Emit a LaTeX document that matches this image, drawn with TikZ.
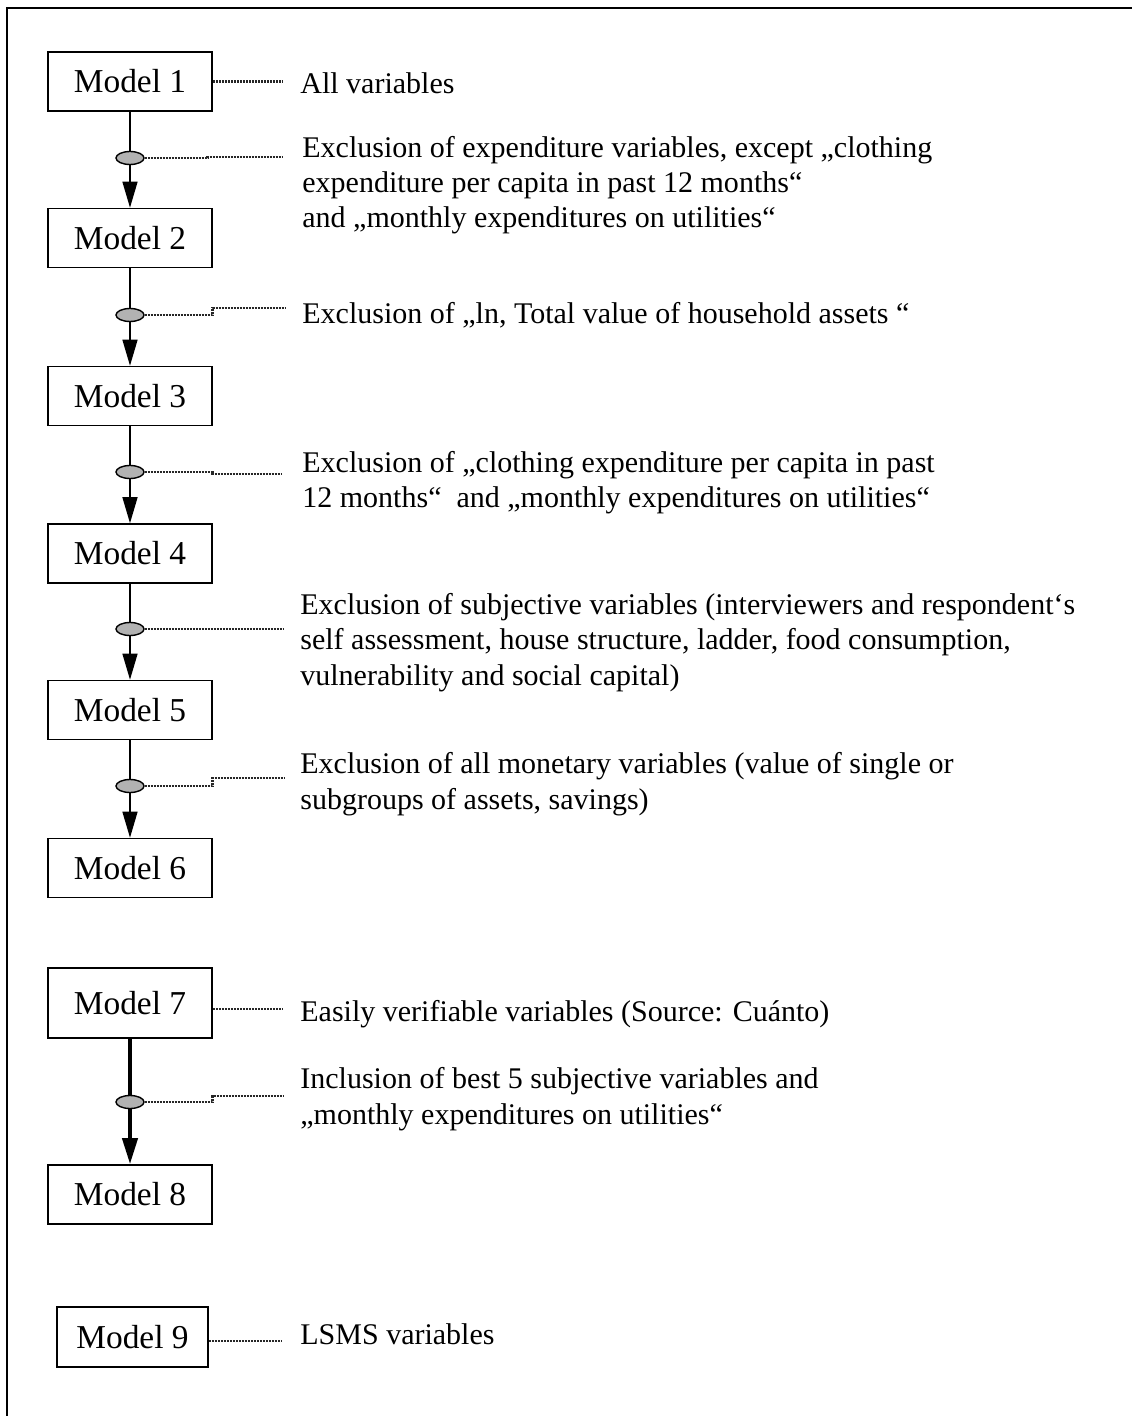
\documentclass[tikz,border=0pt]{standalone}
\usepackage{fontspec}
\setmainfont{Liberation Serif}
\usetikzlibrary{arrows.meta, shapes.geometric}

\begin{document}
\begin{tikzpicture}[
			x=0.5pt, y=-0.5pt,
			model/.style={draw, line width=0.8pt, minimum width=82pt, minimum height=29.5pt, inner sep=0pt, font=\fontsize{16.7}{20}\selectfont},
			note/.style={anchor=base west, inner sep=0pt, align=left, font=\fontsize{15}{17.7}\selectfont},
			knot/.style={draw, ellipse, fill=gray!60, line width=0.7pt, minimum width=14pt, minimum height=6.5pt, inner sep=0pt},
			arr/.style={-{Triangle[length=13pt, width=7.5pt]}, line width=0.7pt},
			lead/.style={line width=1.3pt, dash pattern=on 1.2pt off 0.3pt, black!85}
			]
			
			\useasboundingbox (0,0) rectangle (1132,1416);
			\draw[line width=1pt] (7,1416) -- (7,8) -- (1132,8);
			
			\node[model] (m1) at (130,81.5) {Model 1};
			\node[model] (m2) at (130,238) {Model 2};
			\node[model] (m3) at (130,396) {Model 3};
			\node[model] (m4) at (130,553.5) {Model 4};
			\node[model] (m5) at (130,710) {Model 5};
			\node[model] (m6) at (130,868) {Model 6};
			\node[model, minimum height=35pt] (m7) at (130,1003) {Model 7};
			\node[model] (m8) at (130,1194.5) {Model 8};
			\node[model, minimum width=75.5pt, minimum height=30pt] (m9) at (132.5,1337) {Model 9};
			
			\draw[arr] (m1) -- (m2);
			\draw[arr] (m2) -- (m3);
			\draw[arr] (m3) -- (m4);
			\draw[arr] (m4) -- (m5);
			\draw[arr] (m5) -- (m6);
			\draw[arr, line width=2pt] (m7) -- (m8);
			
			\node[knot] (o12) at (130,158) {};
			\node[knot] (o23) at (130,315) {};
			\node[knot] (o34) at (130,472) {};
			\node[knot] (o45) at (130,629) {};
			\node[knot] (o56) at (130,786) {};
			\node[knot] (o78) at (130,1102) {};
			
			\coordinate (e1) at (282,81.5);
			\coordinate (e12) at (283,157);
			\coordinate (e23) at (285,308);
			\coordinate (e34) at (282,474);
			\coordinate (e45) at (283,629);
			\coordinate (e56) at (285,778);
			\coordinate (e7) at (282,1009);
			\coordinate (e78) at (283,1096);
			\coordinate (e9) at (282,1341);
			
			\draw[lead] (m1) -- (e1);
			\draw[lead] (o12.east) -- ++(63,0) |- (e12);
			\draw[lead] (o23.east) -- ++(68,0) |- (e23);
			\draw[lead] (o34.east) -- ++(68,0) |- (e34);
			\draw[lead] (o45) -- (e45);
			\draw[lead] (o56.east) -- ++(68,0) |- (e56);
			\draw[lead] (m7.east |- e7) -- (e7);
			\draw[lead] (o78.east) -- ++(68,0) |- (e78);
			\draw[lead] (m9.east |- e9) -- (e9);
			
			\node[note] (t1) at (300,94) {All variables};
			\node[note] (t12) at (302,228) {Exclusion of expenditure variables, except „clothing\\expenditure per capita in past 12 months“\\and „monthly expenditures on utilities“};
			\node[note] (t23) at (302,324) {Exclusion of „ln, Total value of household assets “};
			\node[note] (t34) at (302,508) {Exclusion of „clothing expenditure per capita in past\\12 months“\ \ and „monthly expenditures on utilities“};
			\node[note] (t45) at (300,685) {Exclusion of subjective variables (interviewers and respondent‘s\\self assessment, house structure, ladder, food consumption,\\vulnerability and social capital)};
			\node[note] (t56) at (300,809) {Exclusion of all monetary variables (value of single or\\subgroups of assets, savings)};
			\node[note] (t7) at (300,1021) {Easily verifiable variables (Source: Cuánto)};
			\node[note] (t78) at (300,1124) {Inclusion of best 5 subjective variables and\\„monthly expenditures on utilities“};
			\node[note] (t9) at (300,1344) {LSMS variables};
			
		\end{tikzpicture}
\end{document}
